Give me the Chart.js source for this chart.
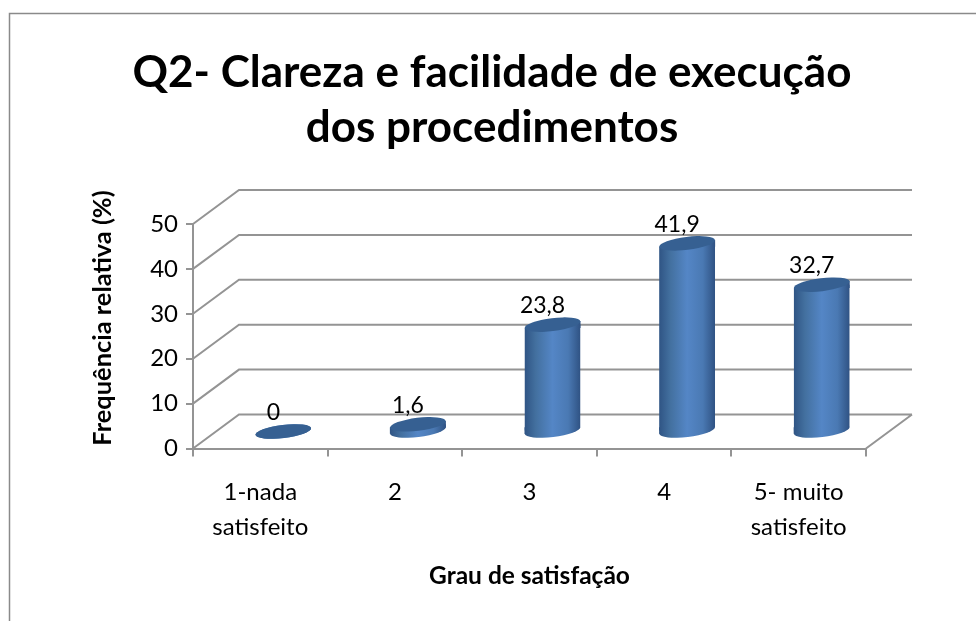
<!DOCTYPE html>
<html>
<head>
<meta charset="utf-8">
<style>html,body{margin:0;padding:0;background:#fff}canvas{display:block}</style>
<script src="https://cdn.jsdelivr.net/npm/chart.js@4"></script>
</head>
<body>
<canvas id="c" width="976" height="621"></canvas>
<script>
const categories = [["1-nada","satisfeito"],"2","3","4",["5- muito","satisfeito"]];
const values = [0,1.6,23.8,41.9,32.7];
const titleLines = ["Q2- Clareza e facilidade de execução","dos procedimentos"];
const xTitle = "Grau de satisfação";
const yTitle = "Frequência relativa (%)";

const FONT = "Lato, Carlito, Calibri, sans-serif";
const GRID = "#949494", GRID_W = 2;
const DX = 46, DY = -34;          // floor depth
const BAR_DX = 23, BAR_DY = -17;  // bars stand mid-depth
const ROT = -0.12, RY = 6.5;

function grad(ctx, cx, w){
  const g = ctx.createLinearGradient(cx-w/2,0,cx+w/2,0);
  g.addColorStop(0,"#2f5484");
  g.addColorStop(0.2,"#43709f");
  g.addColorStop(0.5,"#5486c6");
  g.addColorStop(0.78,"#4a79b3");
  g.addColorStop(1,"#2f5283");
  return g;
}

const scene = {
  id:"scene",
  afterLayout(chart){
    chart.titleBlock.left = 8; chart.titleBlock.right = 976;
  },
  beforeDraw(chart){
    const {ctx,scales:{x,y},chartArea:a} = chart;
    ctx.save();
    ctx.strokeStyle = "#8a8a8a"; ctx.lineWidth = 1.5;
    ctx.beginPath(); ctx.moveTo(9.5,621); ctx.lineTo(9.5,13.5); ctx.lineTo(976,13.5); ctx.stroke();
    ctx.strokeStyle = GRID; ctx.lineWidth = GRID_W;
    ctx.beginPath();
    y.ticks.forEach(t=>{
      const py = y.getPixelForValue(t.value);
      ctx.moveTo(a.left,py); ctx.lineTo(a.left+DX,py+DY); ctx.lineTo(a.right+DX,py+DY);
    });
    ctx.moveTo(a.right,a.bottom); ctx.lineTo(a.right+DX,a.bottom+DY);
    ctx.stroke();
    ctx.restore();
  },
  beforeDatasetDraw(chart,args){
    const ctx = chart.ctx, els = chart.getDatasetMeta(args.index).data;
    ctx.save();
    // base ellipses and the corners the slanted caps leave open
    els.forEach(el=>{
      const cx = el.x+BAR_DX, by = el.base+BAR_DY, ty = el.y+BAR_DY, r = el.width/2, d = r*Math.sin(-ROT);
      ctx.fillStyle = grad(ctx,cx,el.width);
      ctx.beginPath(); ctx.ellipse(cx,by,r,RY,ROT,0,Math.PI*2); ctx.fill();
      if(by-ty>1){
        ctx.beginPath(); ctx.moveTo(cx-r,by-d); ctx.lineTo(cx-r,by+d); ctx.lineTo(cx+r,by-d); ctx.closePath(); ctx.fill();
        ctx.beginPath(); ctx.moveTo(cx-r,ty+d); ctx.lineTo(cx+r,ty-d); ctx.lineTo(cx+r,ty+d); ctx.closePath(); ctx.fill();
      }
    });
    // clip side walls to the slanted cylinder outline
    ctx.beginPath();
    els.forEach(el=>{
      const cx = el.x+BAR_DX, by = el.base+BAR_DY, ty = el.y+BAR_DY, r = el.width/2, d = r*Math.sin(-ROT);
      ctx.moveTo(cx-r,ty+d); ctx.lineTo(cx+r,ty-d); ctx.lineTo(cx+r,by-d); ctx.lineTo(cx-r,by+d); ctx.closePath();
    });
    ctx.clip();
    ctx.translate(BAR_DX,BAR_DY);
  },
  afterDatasetDraw(chart,args){
    const ctx = chart.ctx, els = chart.getDatasetMeta(args.index).data;
    ctx.restore();
    ctx.save();
    els.forEach((el,i)=>{
      const cx = el.x+BAR_DX, ty = el.y+BAR_DY, r = el.width/2;
      ctx.fillStyle = "#366092";
      ctx.beginPath(); ctx.ellipse(cx,ty,r,RY,ROT,0,Math.PI*2); ctx.fill();
      ctx.fillStyle = "#000"; ctx.font = "23px "+FONT; ctx.textAlign="center"; ctx.textBaseline="middle";
      ctx.fillText(String(values[i]).replace(".",","),cx-10,ty-19);
    });
    // y axis title
    ctx.translate(103,318); ctx.rotate(-Math.PI/2);
    ctx.font = "bold 25.4px "+FONT; ctx.fillStyle="#000";
    ctx.fillText(yTitle,0,0);
    ctx.restore();
  }
};

new Chart(document.getElementById("c"),{
  type:"bar",
  data:{labels:categories,datasets:[{
    data:values,
    barPercentage:0.416,categoryPercentage:1,borderWidth:0,
    backgroundColor(c){
      const sx = c.chart.scales.x;
      const w = sx ? sx.width/categories.length*0.416 : NaN;
      const px = sx && c.dataIndex!==undefined ? sx.getPixelForValue(c.dataIndex) : NaN;
      if(!isFinite(w)||!isFinite(px)) return "#4f81bd";
      return grad(c.chart.ctx,px,w);
    }
  }]},
  plugins:[scene],
  options:{
    responsive:false,animation:false,
    layout:{padding:{left:0,top:0,right:110,bottom:0}},
    plugins:{
      legend:{display:false},tooltip:{enabled:false},
      title:{display:true,text:titleLines,color:"#000",
        font:{family:FONT,size:44,weight:"bold",lineHeight:1.25},padding:{top:45,bottom:69}}
    },
    scales:{
      x:{
        afterFit(s){s.height=621-448.5;},
        grid:{drawOnChartArea:false,offset:true,tickLength:8,color:GRID,lineWidth:GRID_W},
        border:{color:GRID,width:GRID_W},
        ticks:{color:"#000",maxRotation:0,autoSkip:false,padding:18,font:{family:FONT,size:24,lineHeight:1.46}},
        title:{display:true,text:xTitle,color:"#000",font:{family:FONT,size:24.5,weight:"bold"},padding:{top:0,bottom:30}}
      },
      y:{
        min:0,max:50,
        afterFit(s){s.width=193;},
        grid:{drawOnChartArea:false,tickLength:7,color:GRID,lineWidth:GRID_W},
        border:{color:GRID,width:GRID_W},
        ticks:{stepSize:10,color:"#000",padding:8,font:{family:FONT,size:24}}
      }
    }
  }
});
</script>
</body>
</html>
